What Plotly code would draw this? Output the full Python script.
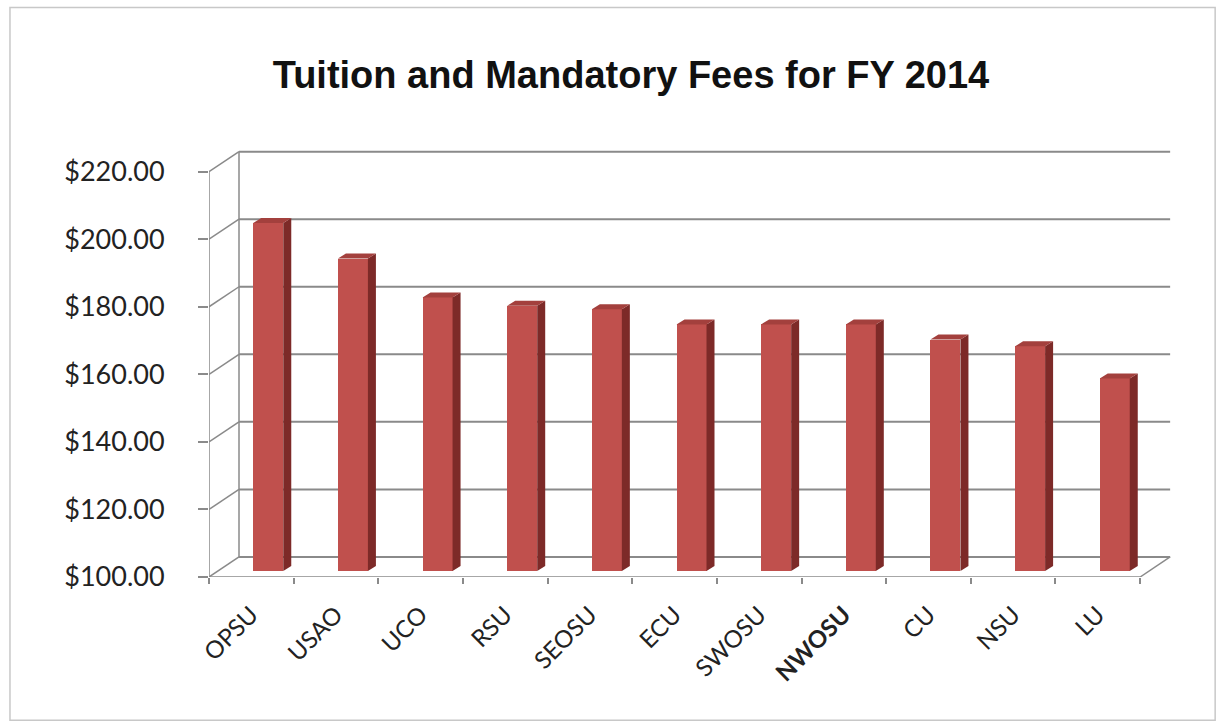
import plotly.graph_objects as go

# ---- data ----
schools = ["OPSU", "USAO", "UCO", "RSU", "SEOSU", "ECU", "SWOSU", "NWOSU", "CU", "NSU", "LU"]
fees = [203.0, 192.5, 181.0, 178.5, 177.5, 173.0, 173.0, 173.0, 168.5, 166.5, 157.0]
y_ticks = [100, 120, 140, 160, 180, 200, 220]
highlight = "NWOSU"

# ---- geometry (pixels -> data units) ----
W, H = 1226, 728
PX_L, PX_R_FRONT, PX_BOTTOM = 209, 1140, 577
n = len(schools)
px_per_cat = (PX_R_FRONT - PX_L) / n
px_per_unit = 3.375
x_max = 11.4
y_min, y_max = 100, 227
plot_w = x_max * px_per_cat
plot_h = (y_max - y_min) * px_per_unit
m_l = PX_L
m_r = W - PX_L - plot_w
m_b = H - PX_BOTTOM
m_t = PX_BOTTOM - plot_h

wall_dx = 30 / px_per_cat      # back-wall depth offset
wall_dy = 20 / px_per_unit
bar_dx = 0.2                    # bar placement inside the depth
bar_dy = 6 / px_per_unit
bar_w = 30 / px_per_cat
side_dx = 8 / px_per_cat
side_dy = 5 / px_per_unit

grid_col = "#8a8a8a"
front_col = "#c0504d"
side_col = "#7d2a28"
top_col = "#a3403d"

fig = go.Figure()

shapes = []
def seg(x0, y0, x1, y1, width=2, color=grid_col):
    shapes.append(dict(type="line", xref="x", yref="y", x0=x0, y0=y0, x1=x1, y1=y1,
                       line=dict(color=color, width=width), layer="below"))

# back-wall gridlines and diagonals from front axis
for v in y_ticks:
    seg(wall_dx, v + wall_dy, n + wall_dx, v + wall_dy)
    seg(0, v, wall_dx, v + wall_dy, width=1.5)
# back-left wall edge and front axis line
seg(wall_dx, y_ticks[0] + wall_dy, wall_dx, y_ticks[-1] + wall_dy, width=1.5)
seg(0, y_ticks[0], 0, y_ticks[-1], width=1.5)
# floor front and right edges
seg(0, y_ticks[0], n, y_ticks[0], width=1.5)
seg(n, y_ticks[0], n + wall_dx, y_ticks[0] + wall_dy, width=1.5)

# front faces (bars)
centers = [i + 0.5 + bar_dx for i in range(n)]
base = y_ticks[0] + bar_dy
fig.add_trace(go.Bar(
    x=centers, y=[v - y_ticks[0] for v in fees], base=base, width=bar_w,
    marker=dict(color=front_col, line=dict(width=0)), hoverinfo="skip", showlegend=False))

# side and top faces
sx, sy, tx, ty = [], [], [], []
for c, v in zip(centers, fees):
    xl, xr = c - bar_w / 2, c + bar_w / 2
    top = v + bar_dy
    sx += [xr, xr + side_dx, xr + side_dx, xr, xr, None]
    sy += [base, base + side_dy, top + side_dy, top, base, None]
    tx += [xl, xr, xr + side_dx, xl + side_dx, xl, None]
    ty += [top, top, top + side_dy, top + side_dy, top, None]
fig.add_trace(go.Scatter(x=sx, y=sy, fill="toself", fillcolor=side_col, mode="lines",
                         line=dict(width=0, color=side_col), hoverinfo="skip", showlegend=False))
fig.add_trace(go.Scatter(x=tx, y=ty, fill="toself", fillcolor=top_col, mode="lines",
                         line=dict(width=0, color=top_col), hoverinfo="skip", showlegend=False))

# outer frame
def px_to_paper_x(p):
    return (p - m_l) / plot_w
def px_to_paper_y(p):
    return (H - m_b - p) / plot_h
shapes.append(dict(type="rect", xref="paper", yref="paper",
                   x0=px_to_paper_x(10), x1=px_to_paper_x(1215),
                   y0=px_to_paper_y(720), y1=px_to_paper_y(8),
                   line=dict(color="#c8c8c8", width=1.5), layer="below"))

ticktext = [f"<b>{s}</b>" if s == highlight else s for s in schools]

fig.update_layout(
    width=W, height=H,
    margin=dict(l=m_l, r=m_r, t=m_t, b=m_b, pad=0),
    paper_bgcolor="white", plot_bgcolor="white",
    shapes=shapes,
    title=dict(text="<b>Tuition and Mandatory Fees for FY 2014</b>",
               x=631 / W, xref="container", xanchor="center", y=1 - 75 / H, yanchor="middle",
               font=dict(family="Liberation Sans, Arial", size=38, color="#111111")),
    xaxis=dict(range=[0, x_max], tickvals=[i + 0.5 for i in range(n)], ticktext=ticktext,
               tickangle=-45, ticks="", showgrid=False, zeroline=False, showline=False,
               ticklabelstandoff=18,
               tickfont=dict(family="Lato, Open Sans", size=24, color="#222222"),
               minor=dict(tickvals=list(range(n + 1)), ticks="outside", ticklen=6,
                          tickcolor=grid_col, tickwidth=1.5, showgrid=False),
               fixedrange=True),
    yaxis=dict(range=[y_min, y_max], tickvals=y_ticks, tickformat="$.2f",
               ticks="outside", ticklen=10, tickcolor=grid_col, tickwidth=1.5,
               ticklabelstandoff=28,
               showgrid=False, zeroline=False, showline=False,
               tickfont=dict(family="Lato, Open Sans", size=27, color="#222222"),
               fixedrange=True),
    bargap=0,
)

fig.write_html("out.html", config={"displayModeBar": False},
               post_script="document.body.style.margin='0';")
